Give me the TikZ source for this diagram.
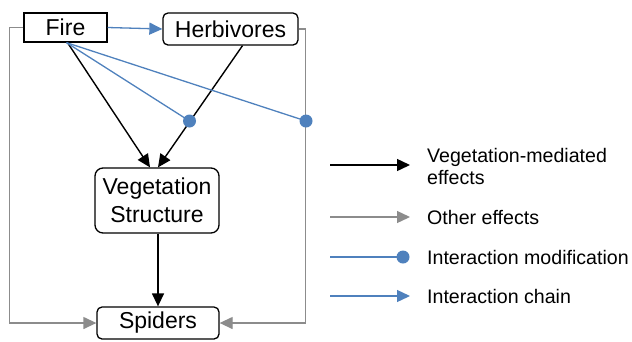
\documentclass[tikz,border=0pt]{standalone}
\usepackage{fontspec}
\setmainfont{Liberation Sans}
\usetikzlibrary{arrows.meta}
\definecolor{chainblue}{HTML}{4F81BD}
\definecolor{othergray}{HTML}{8C8C8C}
\tikzset{
  box/.style={draw, line width=1.3pt, inner sep=0pt, font=\fontsize{23}{28}\selectfont, align=center},
  veg/.style={line width=1.4pt, -{Triangle[length=13pt,width=12pt]}},
  other/.style={othergray, line width=1.3pt, -{Triangle[length=13pt,width=12pt]}},
  chain/.style={chainblue, line width=1.3pt, -{Triangle[length=13pt,width=12pt]}},
  modif/.style={chainblue, line width=1.3pt},
  legtext/.style={anchor=west, inner sep=0pt, font=\fontsize{19.6}{22}\selectfont, align=left}
}
\begin{document}
\begin{tikzpicture}[x=1pt,y=-1pt]
	\useasboundingbox (0,0) rectangle (632,341);

	\node[box, minimum width=83pt, minimum height=29pt] (fire) at (65.5,27.5) {Fire};
	\node[box, rounded corners=5pt, minimum width=135pt, minimum height=32pt] (herb) at (230.5,29) {Herbivores};
	\node[box, rounded corners=8pt, minimum width=124pt, minimum height=65pt] (vegstr) at (157,200.5) {Vegetation\\Structure};
	\node[box, rounded corners=5pt, minimum width=122pt, minimum height=32pt] (spiders) at (158,323) {Spiders};

	\coordinate (dotA) at (189.5,121);
	\coordinate (dotB) at (306,121);

	% other effects
	\draw[other] (fire.west) -- ++(-14,0) |- (spiders.west);
	\draw[other] (herb.east) -- ++(7,0) |- (spiders.east);

	% vegetation-mediated
	\draw[veg] ([xshift=2]fire.south) -- ([xshift=-7]vegstr.north);
	\draw[veg] ([xshift=12]herb.south) -- ([xshift=1]vegstr.north);
	\draw[veg] ([xshift=1]vegstr.south) -- ([xshift=0]spiders.north);

	% interactions
	\draw[chain] (fire.east) -- (herb.west);
	\draw[modif] ([xshift=1]fire.south) -- (dotA);
	\draw[modif] ([xshift=1]fire.south) -- (dotB);
	\foreach \d in {dotA,dotB}{
	  \fill[chainblue] (\d) circle [radius=6.5];
	}

	% legend
	\coordinate (l1a) at (330,165); \coordinate (l1b) at (410,165);
	\coordinate (l2a) at (330,217); \coordinate (l2b) at (410,217);
	\coordinate (l3a) at (330,257); \coordinate (l3b) at (403,257);
	\coordinate (l4a) at (330,296); \coordinate (l4b) at (410,296);
	\draw[veg] (l1a) -- (l1b);
	\draw[other] (l2a) -- (l2b);
	\draw[modif] (l3a) -- (l3b);
	\fill[chainblue] (l3b) circle [radius=6.5];
	\draw[chain] (l4a) -- (l4b);
	\node[legtext] (t1) at (427,166) {Vegetation-mediated\\effects};
	\node[legtext] (t2) at (427,217) {Other effects};
	\node[legtext] (t3) at (427,257) {Interaction modification};
	\node[legtext] (t4) at (427,296) {Interaction chain};
\end{tikzpicture}
\end{document}
